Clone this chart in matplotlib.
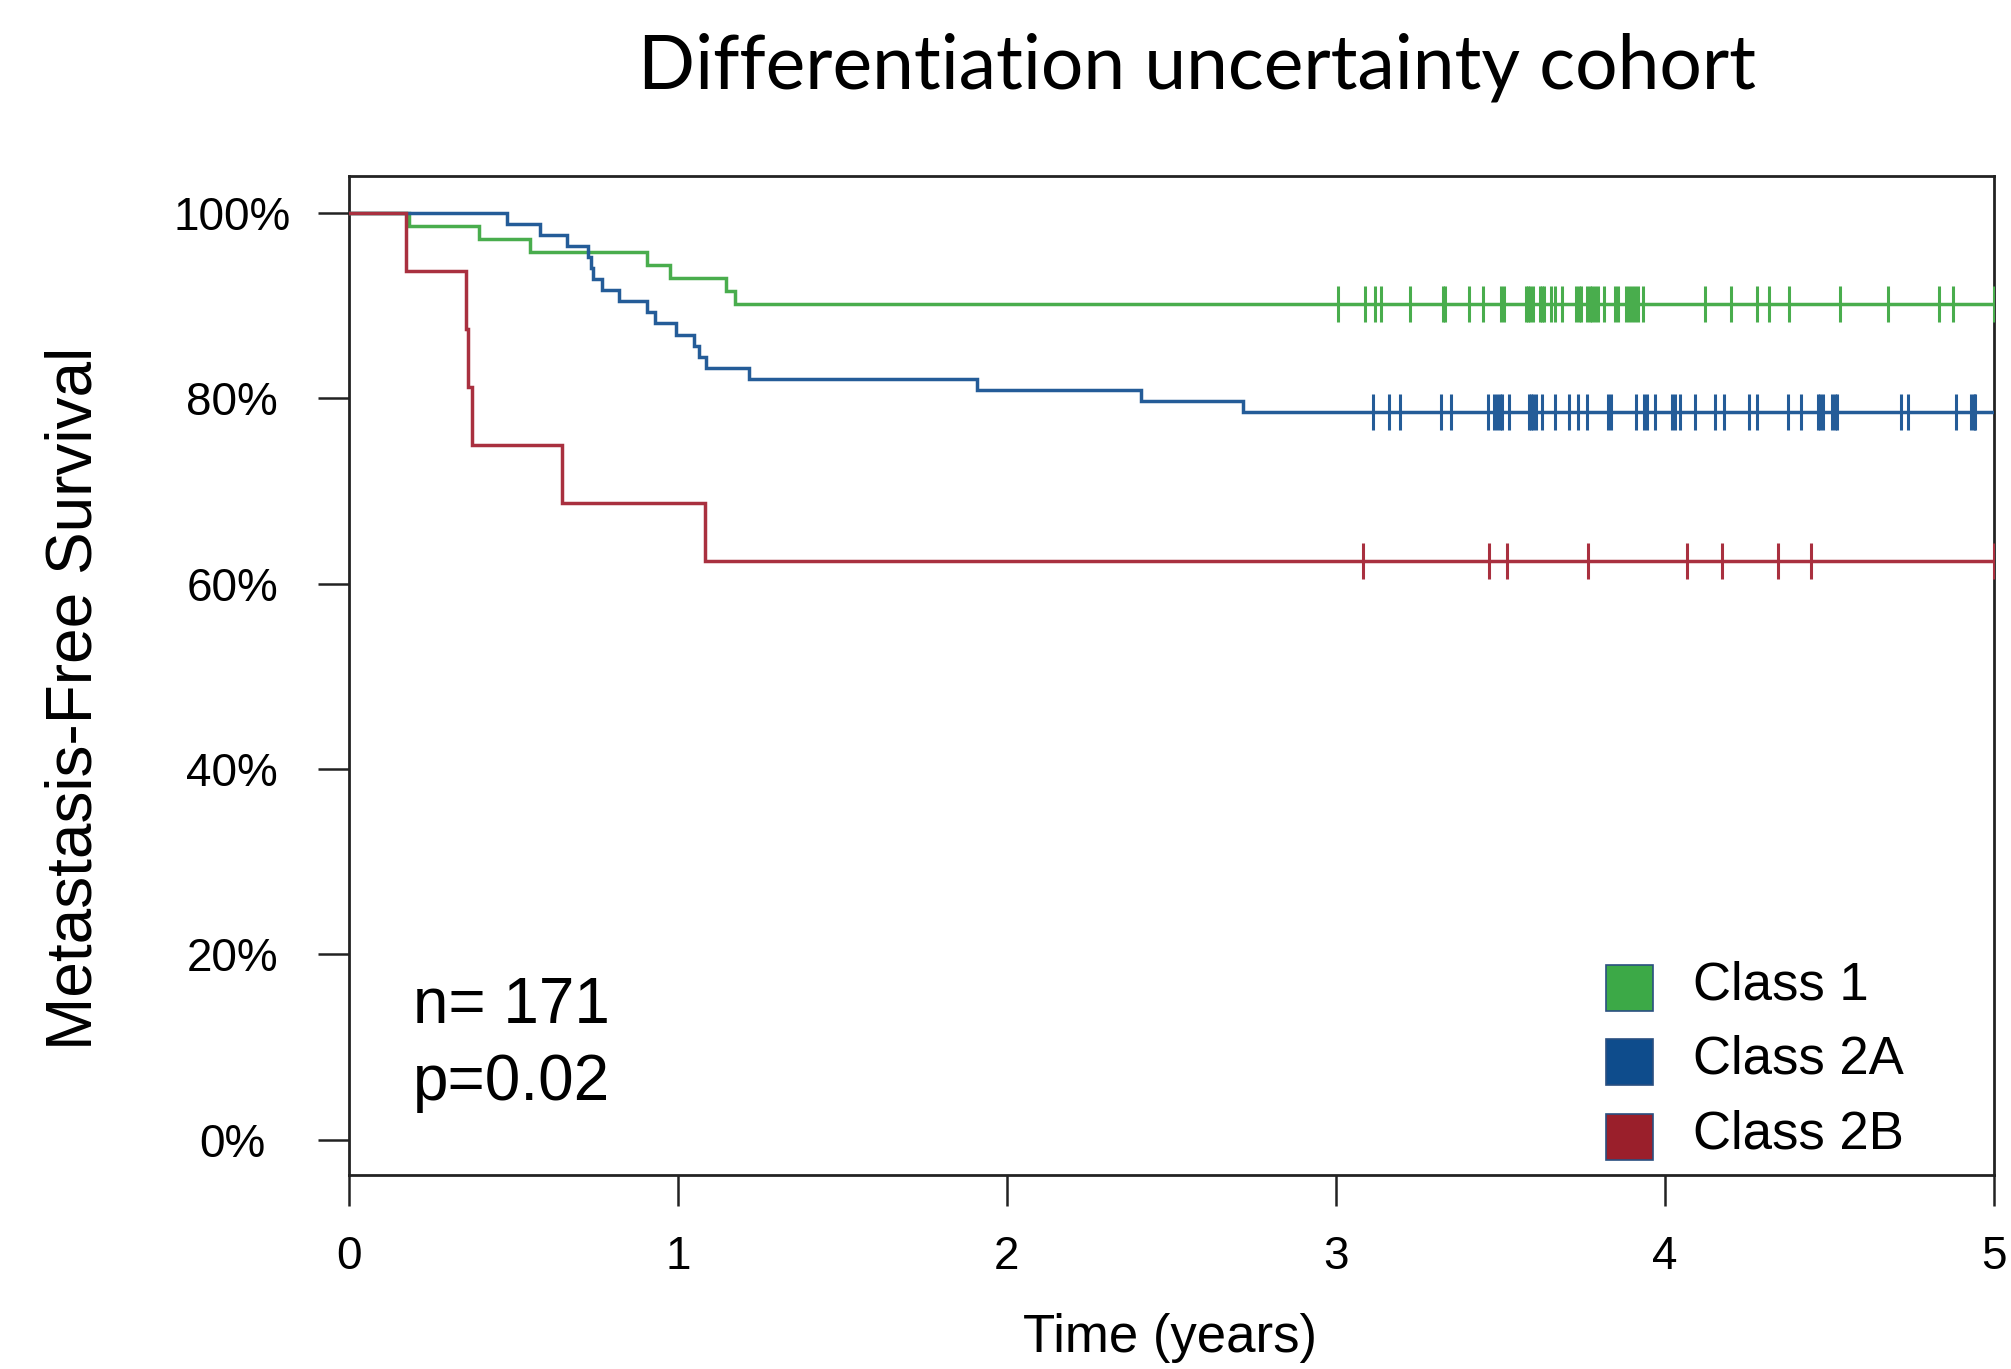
import numpy as np
import matplotlib
matplotlib.use("Agg")
import matplotlib.pyplot as plt
from matplotlib.patches import Rectangle

# ---------------- data ----------------
groups = ["Class 1", "Class 2A", "Class 2B"]

class1_event_times = [0.182, 0.395, 0.551, 0.906, 0.975, 1.145, 1.175]
class1_surv = [0.9859, 0.9718, 0.9577, 0.9437, 0.9296, 0.9155, 0.9014]
class1_censor = [3.006, 3.089, 3.120, 3.136, 3.224, 3.327, 3.333, 3.404, 3.447,
                 3.503, 3.510, 3.577, 3.584, 3.591, 3.599, 3.619, 3.627, 3.634,
                 3.655, 3.665, 3.688, 3.731, 3.739, 3.746, 3.764, 3.771, 3.779,
                 3.788, 3.796, 3.815, 3.849, 3.857, 3.881, 3.890, 3.900, 3.910,
                 3.918, 3.933, 4.121, 4.200, 4.280, 4.315, 4.377, 4.533, 4.678,
                 4.833, 4.875, 5.0]

class2a_event_times = [0.480, 0.582, 0.663, 0.728, 0.735, 0.742, 0.770, 0.821,
                       0.906, 0.930, 0.995, 1.048, 1.064, 1.086, 1.216, 1.909,
                       2.409, 2.717]
class2a_surv = [0.9881, 0.9762, 0.9643, 0.9524, 0.9405, 0.9286, 0.9167, 0.9048,
                0.8929, 0.8810, 0.8690, 0.8571, 0.8452, 0.8333, 0.8214, 0.8095,
                0.7976, 0.7857]
class2a_censor = [3.112, 3.160, 3.196, 3.320, 3.351, 3.462, 3.482, 3.489, 3.498,
                  3.506, 3.526, 3.587, 3.594, 3.599, 3.607, 3.627, 3.665, 3.708,
                  3.736, 3.763, 3.827, 3.835, 3.913, 3.936, 3.945, 3.969, 4.022,
                  4.030, 4.045, 4.092, 4.153, 4.181, 4.255, 4.280, 4.374, 4.414,
                  4.465, 4.472, 4.480, 4.509, 4.516, 4.523, 4.718, 4.739, 4.886,
                  4.931, 4.938, 4.944]

class2b_event_times = [0.174, 0.357, 0.363, 0.375, 0.649, 1.082]
class2b_surv = [0.9375, 0.875, 0.8125, 0.75, 0.6875, 0.625]
class2b_censor = [3.081, 3.464, 3.519, 3.765, 4.066, 4.175, 4.345, 4.443, 5.0]

y_ticks = [0.0, 0.2, 0.4, 0.6, 0.8, 1.0]
y_ticklabels = ["0%", "20%", "40%", "60%", "80%", "100%"]
x_ticks = [0, 1, 2, 3, 4, 5]
x_ticklabels = ["0", "1", "2", "3", "4", "5"]

title = "Differentiation uncertainty cohort"
annot_n = "n= 171"
annot_p = "p=0.02"

# ---------------- styling ----------------
line_colors = ["#49AD4D", "#245C98", "#A9303F"]
legend_colors = ["#3CA947", "#0E4C8C", "#9A1F2B"]

plt.rcParams["font.family"] = ["Liberation Sans", "DejaVu Sans"]

fig = plt.figure(figsize=(20.11, 13.69), dpi=100)
ax = fig.add_axes([0.1735, 0.1417, 0.818, 0.7297])

series = [
    (class1_event_times, class1_surv, class1_censor),
    (class2a_event_times, class2a_surv, class2a_censor),
    (class2b_event_times, class2b_surv, class2b_censor),
]
x_end = x_ticks[-1]
for (et, sv, cens), col in zip(series, line_colors):
    t = np.concatenate([[0.0], et, [x_end]])
    s = np.concatenate([[1.0], sv, [sv[-1]]])
    ax.step(t, s, where="post", color=col, lw=2.5, solid_joinstyle="miter", zorder=3)
    cens = np.asarray(cens)
    idx = np.searchsorted(t, cens, side="right") - 1
    ax.plot(cens, s[idx], linestyle="none", marker="|", ms=26, mew=2.2,
            color=col, zorder=4)

ax.set_xlim(0, 5)
ax.set_ylim(-0.038, 1.04)
ax.set_xticks(x_ticks)
ax.set_xticklabels(x_ticklabels)
ax.set_yticks(y_ticks)
ax.set_yticklabels(y_ticklabels, ha="center")
ax.tick_params(axis="y", direction="out", length=22, width=1.8, pad=62,
               labelsize=33, colors="#222222", labelcolor="black")
ax.tick_params(axis="x", direction="out", length=22, width=1.8, pad=21,
               labelsize=33, colors="#222222", labelcolor="black")
for sp in ax.spines.values():
    sp.set_linewidth(2.0)
    sp.set_color("#222222")

# annotations
ax.text(0.195, 0.144, annot_n, fontsize=46, va="center", ha="left")
ax.text(0.195, 0.061, annot_p, fontsize=46, va="center", ha="left")

# legend (manual squares in axes coordinates)
leg_y = [0.164, 0.090, 0.015]
for name, col, yy in zip(groups, legend_colors, leg_y):
    ax.add_patch(Rectangle((0.764, yy), 0.029, 0.046, transform=ax.transAxes,
                           facecolor=col, edgecolor="#2A4F80", lw=1.2,
                           clip_on=False, zorder=5))
    ax.text(0.817, yy + 0.026, name, transform=ax.transAxes, fontsize=38,
            va="center", ha="left")

fig.text(0.595, 0.951, title, fontsize=54, family=["Lato", "DejaVu Sans"],
         ha="center", va="center")
fig.text(0.037, 0.490, "Metastasis-Free Survival", fontsize=46, rotation=90,
         ha="center", va="center")
fig.text(0.582, 0.023, "Time (years)", fontsize=38, ha="center", va="center")

fig.savefig("out.png", dpi=100, facecolor="white")
